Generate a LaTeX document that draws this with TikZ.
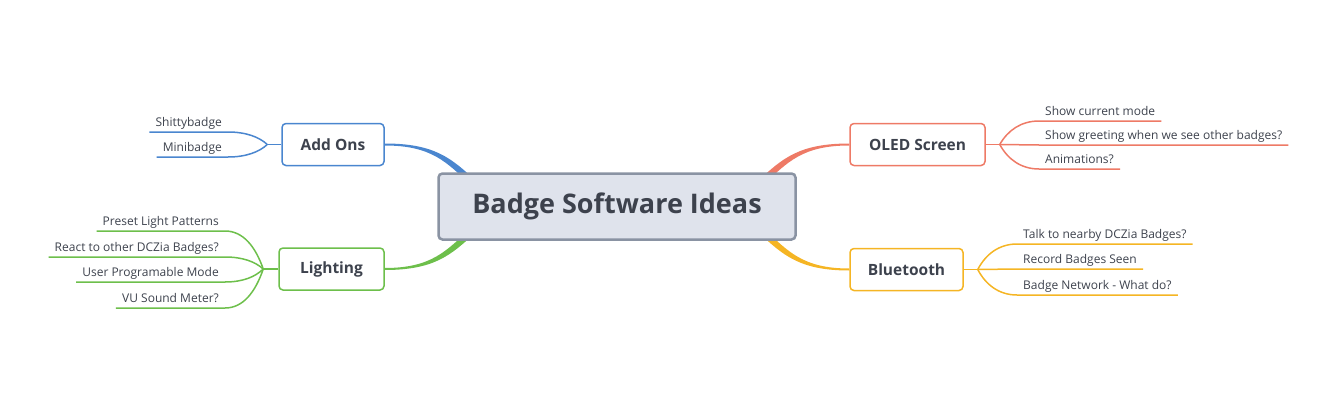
\documentclass[tikz,border=0pt]{standalone}
\usepackage{fontspec}
\setmainfont{Open Sans}
\usetikzlibrary{calc,backgrounds}
\definecolor{ink}{HTML}{3D424D}
\definecolor{coreline}{HTML}{8A93A3}
\definecolor{corefill}{HTML}{DFE3EC}
\definecolor{addblue}{HTML}{4A86CF}
\definecolor{oledred}{HTML}{EE7A66}
\definecolor{litgreen}{HTML}{6DBF4B}
\definecolor{btyellow}{HTML}{F5B524}
\begin{document}
\begin{tikzpicture}[x=1pt,y=-1pt]

\tikzstyle{m} = [draw=coreline, fill=corefill, line width=2.5pt, rounded corners=4pt, minimum width=357pt, minimum height=66pt, text=ink, font=\fontsize{27}{32}\selectfont\bfseries]
\tikzstyle{br} = [draw, fill=white, line width=1.5pt, rounded corners=4pt, minimum height=42pt, text=ink, font=\fontsize{15.5}{18}\selectfont\bfseries]
\tikzstyle{lf} = [text=ink, inner xsep=6pt, inner ysep=2pt, text height=9pt, text depth=3pt, font=\fontsize{12}{14}\selectfont]
\tikzstyle{ln} = [line width=1.5pt]

\useasboundingbox (0,0) rectangle (1333,407);

% centre
\node[m] (core) at (617,206.5) {Badge Software Ideas};

% branches
\node[br, draw=addblue, minimum width=102pt] (addons) at (333,144.5) {Add Ons};
\node[br, draw=litgreen, minimum width=105pt] (lighting) at (331.5,269) {Lighting};
\node[br, draw=oledred, minimum width=135pt] (oled) at (917.5,144.5) {OLED Screen};
\node[br, draw=btyellow, minimum width=113pt] (bt) at (906.5,269.5) {Bluetooth};

\coordinate (aob) at ($(addons.west)+(-14,0)$);
\coordinate (lib) at ($(lighting.west)+(-15,0)$);
\coordinate (olb) at ($(oled.east)+(14,0)$);
\coordinate (btb) at ($(bt.east)+(14,0)$);

% leaves
\node[lf, anchor=south east] (shitty) at (228,132) {Shittybadge};
\node[lf, anchor=south east] (mini) at (228,157) {Minibadge};

\node[lf, anchor=south east] (preset) at (225,231) {Preset Light Patterns};
\node[lf, anchor=south east] (react) at (225,257) {React to other DCZia Badges?};
\node[lf, anchor=south east] (userprog) at (225,282) {User Programable Mode};
\node[lf, anchor=south east] (vu) at (225,308) {VU Sound Meter?};

\node[lf, anchor=south west] (curmode) at (1039,121) {Show current mode};
\node[lf, anchor=south west] (greet) at (1039,145) {Show greeting when we see other badges?};
\node[lf, anchor=south west] (anim) at (1039,169) {Animations?};

\node[lf, anchor=south west] (talk) at (1017,244) {Talk to nearby DCZia Badges?};
\node[lf, anchor=south west] (record) at (1017,269) {Record Badges Seen};
\node[lf, anchor=south west] (network) at (1017,295) {Badge Network - What do?};

\begin{scope}[on background layer]
% thick links to the centre
\fill[addblue] ($(addons.east)+(0,-1)$) .. controls +(50,0) and +(-24,-22) .. ($(core.north west)+(38,8)$) -- ($(core.north west)+(33,12)$) .. controls +(-24,-22) and +(47,0) .. ($(addons.east)+(0,1)$) -- cycle;
\fill[litgreen] ($(lighting.east)+(0,1)$) .. controls +(50,0) and +(-24,22) .. ($(core.south west)+(38,-8)$) -- ($(core.south west)+(33,-12)$) .. controls +(-24,22) and +(47,0) .. ($(lighting.east)+(0,-1)$) -- cycle;
\fill[oledred] ($(oled.west)+(0,-1)$) .. controls +(-50,0) and +(24,-22) .. ($(core.north east)+(-38,8)$) -- ($(core.north east)+(-33,12)$) .. controls +(24,-22) and +(-47,0) .. ($(oled.west)+(0,1)$) -- cycle;
\fill[btyellow] ($(bt.west)+(0,1)$) .. controls +(-50,0) and +(24,22) .. ($(core.south east)+(-38,-8)$) -- ($(core.south east)+(-33,-12)$) .. controls +(24,22) and +(-47,0) .. ($(bt.west)+(0,-1)$) -- cycle;
\end{scope}

% Add Ons
\draw[ln, addblue] (addons.west) -- (aob);
\draw[ln, addblue] (aob) .. controls ($(aob)!.6!(aob|-shitty.south east)+(-8,0)$) and +(18,0) .. (shitty.south east) -- (shitty.south west);
\draw[ln, addblue] (aob) .. controls ($(aob)!.6!(aob|-mini.south east)+(-8,0)$) and +(18,0) .. (mini.south east) -- (mini.south west);

% Lighting
\draw[ln, litgreen] (lighting.west) -- (lib);
\draw[ln, litgreen] (lib) .. controls ($(lib)!.6!(lib|-preset.south east)+(-8,0)$) and +(18,0) .. (preset.south east) -- (preset.south west);
\draw[ln, litgreen] (lib) .. controls ($(lib)!.6!(lib|-react.south east)+(-8,0)$) and +(18,0) .. (react.south east) -- (react.south west);
\draw[ln, litgreen] (lib) .. controls ($(lib)!.6!(lib|-userprog.south east)+(-8,0)$) and +(18,0) .. (userprog.south east) -- (userprog.south west);
\draw[ln, litgreen] (lib) .. controls ($(lib)!.6!(lib|-vu.south east)+(-8,0)$) and +(18,0) .. (vu.south east) -- (vu.south west);

% OLED Screen
\draw[ln, oledred] (oled.east) -- (olb);
\draw[ln, oledred] (olb) .. controls ($(olb)!.6!(olb|-curmode.south west)+(8,0)$) and +(-18,0) .. (curmode.south west) -- (curmode.south east);
\draw[ln, oledred] (olb) -- (greet.south west) -- (greet.south east);
\draw[ln, oledred] (olb) .. controls ($(olb)!.6!(olb|-anim.south west)+(8,0)$) and +(-18,0) .. (anim.south west) -- (anim.south east);

% Bluetooth
\draw[ln, btyellow] (bt.east) -- (btb);
\draw[ln, btyellow] (btb) .. controls ($(btb)!.6!(btb|-talk.south west)+(8,0)$) and +(-18,0) .. (talk.south west) -- (talk.south east);
\draw[ln, btyellow] (btb) -- (record.south west) -- (record.south east);
\draw[ln, btyellow] (btb) .. controls ($(btb)!.6!(btb|-network.south west)+(8,0)$) and +(-18,0) .. (network.south west) -- (network.south east);

\end{tikzpicture}
\end{document}
